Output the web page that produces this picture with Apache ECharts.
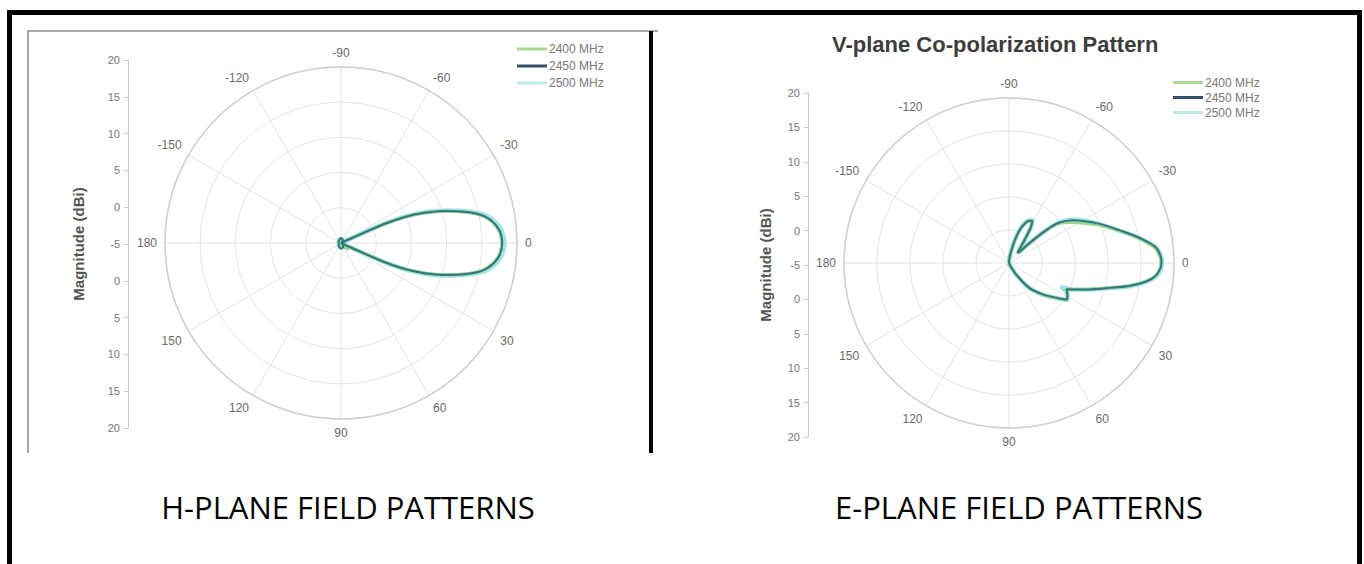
<!DOCTYPE html>
<html>
<head>
<meta charset="utf-8">
<script src="https://cdn.jsdelivr.net/npm/echarts@6/dist/echarts.min.js"></script>
<style>
  html, body { margin: 0; padding: 0; background: #fff; }
  #wrap { position: relative; width: 1364px; height: 564px; overflow: hidden; background: #fff; }
  #chart { position: absolute; left: 0; top: 0; width: 1364px; height: 564px; }
  .bar { position: absolute; background: #000; }
  .gline { position: absolute; background: #a8a8a8; }
  .cap { position: absolute; top: 492px; width: 600px; text-align: center; font-family: "Open Sans", "Noto Sans", sans-serif; font-size: 31px; line-height: 31px; color: #000; white-space: nowrap; }
</style>
</head>
<body>
<div id="wrap">
  <div class="gline" style="left:27px; top:30px; width:631px; height:2px;"></div>
  <div class="gline" style="left:27px; top:30px; width:2px; height:423px;"></div>
  <div id="chart"></div>
  <div class="bar" style="left:7px; top:10px; width:1355px; height:5px;"></div>
  <div class="bar" style="left:7px; top:10px; width:5px; height:554px;"></div>
  <div class="bar" style="left:1357px; top:10px; width:5px; height:554px;"></div>
  <div class="bar" style="left:649px; top:31px; width:4px; height:422px;"></div>
  <div class="cap" style="left:48px;">H-PLANE FIELD PATTERNS</div>
  <div class="cap" style="left:719px;">E-PLANE FIELD PATTERNS</div>
</div>
<script>
// ---------- data ----------
const FREQS = ['2400 MHz', '2450 MHz', '2500 MHz'];
const ANGLE_LABELS = ['0', '30', '60', '90', '120', '150', '180', '-150', '-120', '-90', '-60', '-30'];
const SIDE_LABELS = ['20', '15', '10', '5', '0', '-5', '0', '5', '10', '15', '20'];
const TITLE_E = 'V-plane Co-polarization Pattern';

// H-plane (angle in degrees, magnitude in dBi)
const H_ANGLES = [-180, -150, -120, -90, -60, -40, -30, -26, -24.5, -23.8, -22.2, -19.9, -17.1, -14.2, -10.6, -5.5, 0, 5.5, 10.6, 14.2, 17.1, 19.9, 22.2, 23.8, 24.5, 26, 30, 40, 60, 90, 120, 150, 180];
const H_2400 = [-4.8, -4.6, -4.4, -4.4, -4.6, -4.9, -5, -5, -3.4, 1.4, 4.6, 7.5, 10.3, 13.0, 15.6, 17.3, 17.8, 17.3, 15.6, 13.0, 10.3, 7.5, 4.6, 1.4, -3.0, -4.6, -4.2, -3.6, -4.3, -4.4, -4.6, -4.7, -4.8];
const H_2450 = [-4.7, -4.6, -4.5, -4.3, -4.5, -4.8, -5, -5, -3.2, 1.6, 4.8, 7.6, 10.4, 13.1, 15.7, 17.4, 17.9, 17.4, 15.7, 13.1, 10.4, 7.6, 4.8, 1.6, -3.2, -5, -5, -4.7, -4.4, -4.2, -4.4, -4.6, -4.7];
const H_2500 = [-4.7, -4.7, -4.6, -4.5, -4.6, -4.9, -5, -5, -3.0, 1.9, 5.1, 7.9, 10.7, 13.4, 16.0, 17.7, 18.2, 17.7, 16.0, 13.4, 10.7, 7.9, 5.1, 1.9, -3.0, -5, -5, -4.8, -4.6, -4.4, -4.5, -4.6, -4.7];

// E-plane
const E_ANGLES = [-180, -150, -120, -95, -85, -80, -76, -72, -68, -64.5, -61, -58.5, -56.5, -53.5, -50, -47, -44.5, -42.5, -41, -39, -34, -28.7, -23.3, -16.2, -10.8, -6, -0.8, 1.8, 5.1, 7.8, 10.9, 13.4, 18.2, 22.6, 24.5, 27, 30, 32.4, 36.6, 43.2, 51, 57.4, 63, 70, 90, 120, 150, 180];
const E_2400 = [-5, -5, -5, -5, -4.4, -3.5, -1.8, 0.1, 1.4, 2.0, 2.2, 1.2, -0.5, -2.1, -3.0, -2.6, -0.9, 1.3, 2.9, 4.4, 6.0, 7.6, 9.6, 12.5, 15.0, 17.2, 18.0, 17.9, 17.2, 15.8, 13.4, 11.0, 7.7, 5.3, 4.5, 4.9, 5.2, 5.4, 3.9, 2.0, -0.1, -2.6, -4.1, -5, -5, -5, -5, -5];
const E_2450 = [-5, -5, -5, -5, -4.3, -3.3, -1.6, 0.3, 1.5, 2.1, 2.3, 1.3, -0.4, -2.0, -3.0, -2.7, -1.0, 1.2, 3.0, 4.7, 6.6, 8.2, 10.0, 12.6, 15.2, 17.4, 18.1, 18.0, 17.3, 15.9, 13.5, 11.1, 7.8, 5.4, 4.6, 4.9, 5.2, 5.3, 3.8, 1.9, -0.2, -2.7, -4.2, -5, -5, -5, -5, -5];
const E_2500 = [-5, -5, -5, -5, -4.2, -3.2, -1.5, 0.4, 1.6, 2.2, 2.4, 1.4, -0.3, -1.9, -2.9, -2.6, -1.1, 1.1, 3.0, 4.8, 6.7, 8.3, 9.9, 12.5, 15.1, 17.4, 18.2, 18.1, 17.4, 16.0, 13.6, 11.2, 7.9, 5.5, 3.6, 4.8, 5.3, 5.4, 3.9, 2.0, -0.2, -2.7, -4.2, -5, -5, -5, -5, -5];

// ---------- build ----------
const LEGEND_COLORS = { '2400 MHz': '#a9da92', '2450 MHz': '#34506f', '2500 MHz': '#bdece7' };
const LINE_COLORS = { '2400 MHz': '#9ad48a', '2450 MHz': '#327482', '2500 MHz': '#9fe6e1' };
const WIDTHS = { '2400 MHz': 3, '2450 MHz': 2, '2500 MHz': 4.5 };
const DRAW_ORDER = ['2500 MHz', '2400 MHz', '2450 MHz'];
const FONT = '"Liberation Sans", Arial, sans-serif';

function toPairs(angles, vals) {
  return angles.map((a, i) => [vals[i], a < 0 ? a + 360 : a]);
}

const H_DATA = { '2400 MHz': H_2400, '2450 MHz': H_2450, '2500 MHz': H_2500 };
const E_DATA = { '2400 MHz': E_2400, '2450 MHz': E_2450, '2500 MHz': E_2500 };

function polarAxes(idx) {
  return {
    angle: {
      polarIndex: idx, type: 'value', min: 0, max: 360, interval: 30, startAngle: 0, clockwise: true,
      axisLine: { show: true, lineStyle: { color: '#cfcfcf', width: 1.5 } },
      axisTick: { show: false },
      splitLine: { show: true, lineStyle: { color: '#e4e4e4', width: 1 } },
      axisLabel: {
        margin: 8, color: '#6a6a6a', fontSize: 12, fontFamily: FONT,
        formatter: v => (v >= 360 ? '' : ANGLE_LABELS[Math.round(v / 30) % 12])
      }
    },
    radius: {
      polarIndex: idx, type: 'value', min: -5, max: 20, interval: 5,
      axisLine: { show: false }, axisTick: { show: false }, axisLabel: { show: false },
      splitLine: { show: true, lineStyle: { color: '#e6e6e6', width: 1 } }
    }
  };
}

function sideAxis(idx, nameGap) {
  return {
    gridIndex: idx, type: 'value', min: -25, max: 25, interval: 5,
    axisLine: { show: true, lineStyle: { color: '#c8c8c8', width: 1 } },
    axisTick: { show: true, length: 4, lineStyle: { color: '#c8c8c8' } },
    splitLine: { show: false },
    axisLabel: {
      margin: 8, color: '#777', fontSize: 11, fontFamily: FONT,
      formatter: v => SIDE_LABELS[Math.round((25 - v) / 5)]
    },
    name: 'Magnitude (dBi)', nameLocation: 'middle', nameGap: nameGap,
    nameTextStyle: { color: '#555', fontSize: 15, fontWeight: 'bold', fontFamily: FONT }
  };
}

const p0 = polarAxes(0), p1 = polarAxes(1);
const series = [];
DRAW_ORDER.forEach(name => {
  [[0, H_ANGLES, H_DATA], [1, E_ANGLES, E_DATA]].forEach(([pi, ang, dat]) => {
    series.push({
      name, type: 'line', coordinateSystem: 'polar', polarIndex: pi,
      data: toPairs(ang, dat[name]), showSymbol: false, symbol: 'none', smooth: 0.3,
      lineStyle: { color: LINE_COLORS[name], width: WIDTHS[name] },
      itemStyle: { color: LEGEND_COLORS[name] },
      animation: false, silent: true
    });
  });
});

const legendBase = {
  data: FREQS, orient: 'vertical', padding: 0, itemWidth: 30, itemHeight: 3, icon: 'rect',
  selectedMode: false
};

const chart = echarts.init(document.getElementById('chart'), null, { renderer: 'svg' });
chart.setOption({
  animation: false,
  backgroundColor: 'transparent',
  title: [{
    text: TITLE_E, left: 832, top: 33, padding: 0,
    textStyle: { color: '#3c3c3c', fontSize: 22, fontWeight: 'bold', fontFamily: FONT }
  }],
  legend: [
    Object.assign({}, legendBase, {
      left: 517, top: 41, itemGap: 1,
      textStyle: { color: '#777', fontSize: 12, lineHeight: 16, fontFamily: FONT, padding: [0, 0, 0, -3] }
    }),
    Object.assign({}, legendBase, {
      left: 1173, top: 75, itemGap: 0,
      textStyle: { color: '#777', fontSize: 12, lineHeight: 15, fontFamily: FONT, padding: [0, 0, 0, -3] }
    })
  ],
  polar: [
    { center: [341, 243], radius: 176 },
    { center: [1009, 263], radius: 165 }
  ],
  angleAxis: [p0.angle, p1.angle],
  radiusAxis: [p0.radius, p1.radius],
  grid: [
    { left: 128, top: 60, width: 1, height: 368 },
    { left: 808, top: 93, width: 1, height: 344 }
  ],
  xAxis: [
    { gridIndex: 0, type: 'value', show: false },
    { gridIndex: 1, type: 'value', show: false }
  ],
  yAxis: [sideAxis(0, 42), sideAxis(1, 35)],
  series
});
</script>
</body>
</html>
